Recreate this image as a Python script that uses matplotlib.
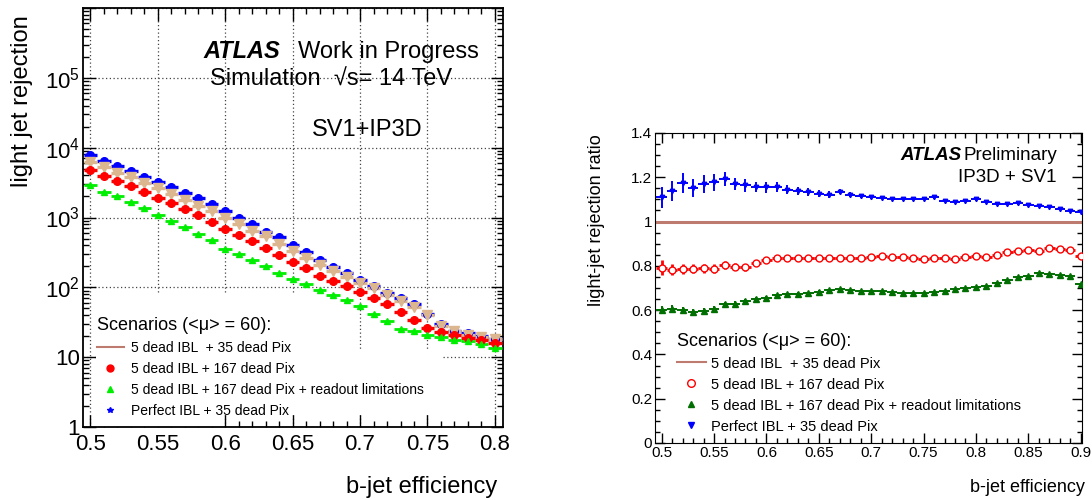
import math
import matplotlib
matplotlib.use('Agg')
import matplotlib.pyplot as plt
from matplotlib.lines import Line2D
from matplotlib.patches import Rectangle
from matplotlib.ticker import MultipleLocator, LogLocator, FuncFormatter, NullFormatter, FormatStrFormatter

plt.rcParams['font.family'] = ['Liberation Sans', 'DejaVu Sans']
plt.rcParams['mathtext.fontset'] = 'custom'
plt.rcParams['mathtext.rm'] = 'Liberation Sans'
plt.rcParams['mathtext.it'] = 'Liberation Sans:italic'

# left panel: light jet rejection vs b-jet efficiency
eff_left = [0.50, 0.51, 0.52, 0.53, 0.54, 0.55, 0.56, 0.57, 0.58, 0.59, 0.60,
            0.61, 0.62, 0.63, 0.64, 0.65, 0.66, 0.67, 0.68, 0.69, 0.70,
            0.71, 0.72, 0.73, 0.74, 0.75, 0.76, 0.77, 0.78, 0.79, 0.80]
rej_perfect = [7870, 6460, 5480, 4650, 3850, 3240, 2710, 2250, 1890, 1550, 1220,
               1000, 820, 630, 518, 400, 316, 249, 198, 158, 127,
               106, 84, 71, 58, 42, 30, 23.5, 21.9, 20.0, 18.5]
rej_35pix = [6310, 5240, 4400, 3770, 3090, 2620, 2150, 1790, 1480, 1220, 1000,
             800, 646, 536, 421, 334, 262, 211, 169, 141, 115,
             98, 77, 63, 52, 40, 28.3, 23.5, 21.1, 19.3, 18.5]
rej_167pix = [4800, 3980, 3380, 2830, 2300, 1930, 1600, 1315, 1070, 857, 689,
              565, 465, 365, 286, 230, 189, 147, 122, 106, 86,
              70, 58, 44, 34.5, 26.2, 22.9, 20.6, 19.1, 17.5, 16.0]
rej_readout = [2930, 2350, 2040, 1640, 1360, 1070, 895, 728, 585, 469, 356,
               299, 243, 200, 160, 133, 113, 92.7, 78.5, 65.2, 53.6,
               42.1, 32.7, 25.4, 23.5, 21.1, 19.5, 17.9, 16.9, 15.2, 13.6]

# right panel: ratio to "5 dead IBL + 35 dead Pix"
eff_right = [0.50, 0.51, 0.52, 0.53, 0.54, 0.55, 0.56, 0.57, 0.58, 0.59, 0.60,
             0.61, 0.62, 0.63, 0.64, 0.65, 0.66, 0.67, 0.68, 0.69, 0.70,
             0.71, 0.72, 0.73, 0.74, 0.75, 0.76, 0.77, 0.78, 0.79, 0.80,
             0.81, 0.82, 0.83, 0.84, 0.85, 0.86, 0.87, 0.88, 0.89, 0.90]
ratio_perfect = [1.110, 1.137, 1.174, 1.152, 1.169, 1.177, 1.193, 1.171, 1.164, 1.156, 1.155,
                 1.156, 1.144, 1.137, 1.134, 1.126, 1.122, 1.134, 1.122, 1.115, 1.112,
                 1.107, 1.104, 1.104, 1.103, 1.103, 1.110, 1.093, 1.090, 1.095, 1.100,
                 1.088, 1.081, 1.081, 1.082, 1.073, 1.071, 1.066, 1.055, 1.048, 1.041]
err_perfect = [0.048, 0.044, 0.044, 0.040, 0.040, 0.038, 0.033, 0.028, 0.030, 0.024, 0.025,
               0.022, 0.021, 0.018, 0.017, 0.015, 0.014, 0.011, 0.010, 0.009, 0.008,
               0.007, 0.007, 0.006, 0.006, 0.006, 0.006, 0.005, 0.005, 0.005, 0.005,
               0.005, 0.005, 0.005, 0.005, 0.004, 0.004, 0.004, 0.004, 0.004, 0.004]
ratio_167pix = [0.792, 0.782, 0.787, 0.787, 0.789, 0.787, 0.804, 0.797, 0.793, 0.815, 0.827,
                0.834, 0.837, 0.834, 0.834, 0.834, 0.834, 0.834, 0.834, 0.837, 0.841,
                0.846, 0.840, 0.840, 0.837, 0.831, 0.837, 0.834, 0.831, 0.840, 0.844,
                0.841, 0.851, 0.863, 0.866, 0.871, 0.866, 0.881, 0.878, 0.871, 0.844]
err_167pix = [0.034, 0.025, 0.022, 0.020, 0.020, 0.020, 0.018, 0.016, 0.015, 0.013, 0.012,
              0.011, 0.010, 0.009, 0.008, 0.008, 0.007, 0.007, 0.006, 0.006, 0.006,
              0.005, 0.005, 0.005, 0.005, 0.005, 0.005, 0.005, 0.005, 0.005, 0.005,
              0.005, 0.005, 0.005, 0.005, 0.005, 0.005, 0.005, 0.005, 0.005, 0.005]
ratio_readout = [0.600, 0.605, 0.600, 0.590, 0.597, 0.605, 0.627, 0.630, 0.642, 0.649, 0.656,
                 0.667, 0.671, 0.674, 0.678, 0.683, 0.689, 0.694, 0.689, 0.686, 0.686,
                 0.686, 0.682, 0.678, 0.676, 0.678, 0.682, 0.686, 0.694, 0.698, 0.704,
                 0.711, 0.723, 0.734, 0.748, 0.753, 0.767, 0.763, 0.760, 0.753, 0.716]
err_readout = [0.018, 0.016, 0.016, 0.015, 0.014, 0.013, 0.012, 0.011, 0.010, 0.009, 0.008,
               0.008, 0.007, 0.007, 0.006, 0.006, 0.005, 0.005, 0.005, 0.005, 0.005,
               0.004, 0.004, 0.004, 0.004, 0.004, 0.004, 0.004, 0.004, 0.004, 0.004,
               0.004, 0.004, 0.004, 0.004, 0.004, 0.004, 0.004, 0.004, 0.004, 0.004]
ratio_reference = 1.0

labels = ['5 dead IBL  + 35 dead Pix',
          '5 dead IBL + 167 dead Pix',
          '5 dead IBL + 167 dead Pix + readout limitations',
          'Perfect IBL + 35 dead Pix']
legend_title = 'Scenarios (<\u03bc> = 60):'

ref_color = '#bd7b70'
half_bin = 0.005

fig = plt.figure(figsize=(10.92, 5.0), dpi=100)

# ---------------- left panel ----------------
ax1 = fig.add_axes([0.0760, 0.146, 0.3846, 0.838])
ax1.set_yscale('log')
ax1.set_xlim(0.4945, 0.806)
ax1.set_ylim(1, 1e6)
ax1.grid(True, which='major', linestyle=(0, (1, 2)), color='#444444', linewidth=0.9)
ax1.set_axisbelow(True)

# white legend pads (ROOT boxes hide the grid underneath), given in axes fractions
for x0, y0, w, h in [(0.031, 0.0, 0.305, 0.320),
                     (0.305, 0.033, 0.276, 0.287),
                     (0.581, 0.033, 0.271, 0.148)]:
    ax1.add_patch(Rectangle((x0, y0), w, h, transform=ax1.transAxes,
                            facecolor='white', edgecolor='none', zorder=2.5))

ax1.errorbar(eff_left, rej_perfect, xerr=half_bin, fmt='o', color='#0000ff', ms=5.5,
             elinewidth=2.4, capsize=0, zorder=3)
ax1.errorbar(eff_left, rej_35pix, xerr=half_bin, fmt='v', color='#dcb68e', ms=6.5,
             elinewidth=2.4, capsize=0, zorder=3)
ax1.errorbar(eff_left, rej_167pix, xerr=half_bin, fmt='o', color='#ff0000', ms=5.5,
             elinewidth=2.4, capsize=0, zorder=3)
ax1.errorbar(eff_left, rej_readout, xerr=half_bin, fmt='^', color='#00ee00', ms=5,
             elinewidth=2.0, capsize=0, zorder=3)

ax1.xaxis.set_major_locator(MultipleLocator(0.05))
ax1.xaxis.set_minor_locator(MultipleLocator(0.01))
ax1.xaxis.set_major_formatter(FormatStrFormatter('%g'))
ax1.yaxis.set_major_locator(LogLocator(base=10, numticks=10))
ax1.yaxis.set_minor_locator(LogLocator(base=10, subs=range(2, 10), numticks=20))
ax1.yaxis.set_minor_formatter(NullFormatter())


def pow_label(v, pos):
    n = round(math.log10(v))
    if n == 0:
        return '1'
    if n == 1:
        return '10'
    if n > 5:
        return ''
    return r'$10^{%d}$' % n


ax1.yaxis.set_major_formatter(FuncFormatter(pow_label))
ax1.tick_params(which='both', direction='in', top=True, right=True)
ax1.tick_params(which='major', length=9, width=1.0)
ax1.tick_params(which='minor', length=4.5, width=1.0)
ax1.tick_params(axis='x', labelsize=16, pad=5)
ax1.tick_params(axis='y', labelsize=16, pad=2)
for s in ax1.spines.values():
    s.set_linewidth(1.3)

ax1.text(-0.145, 0.778, 'light jet rejection', transform=ax1.transAxes, rotation=90,
         ha='center', va='center', fontsize=17)
ax1.text(0.986, -0.143, 'b-jet efficiency', transform=ax1.transAxes,
         ha='right', va='center', fontsize=17)
ax1.text(0.286, 0.895, 'ATLAS', transform=ax1.transAxes, fontsize=17,
         fontweight='bold', fontstyle='italic', va='center')
ax1.text(0.512, 0.895, 'Work in Progress', transform=ax1.transAxes, fontsize=17, va='center')
ax1.text(0.302, 0.828, 'Simulation  \u221as= 14 TeV', transform=ax1.transAxes,
         fontsize=17, va='center')
ax1.text(0.545, 0.709, 'SV1+IP3D', transform=ax1.transAxes, fontsize=17, va='center')

handles_left = [
    Line2D([], [], color=ref_color, lw=1.5),
    Line2D([], [], ls='none', marker='o', color='#ff0000', ms=5),
    Line2D([], [], ls='none', marker='^', color='#00ee00', ms=4),
    Line2D([], [], ls='none', marker='*', color='#0000ff', ms=4),
]
ax1.legend(handles_left, labels, title=legend_title, loc='upper left',
           bbox_to_anchor=(0.019, 0.275), borderaxespad=0, fontsize=10,
           title_fontsize=13, alignment='left', handlelength=2.0,
           handletextpad=0.45, labelspacing=0.5, frameon=False, borderpad=0.4)

# ---------------- right panel ----------------
ax2 = fig.add_axes([0.5998, 0.114, 0.3910, 0.620])
ax2.set_xlim(0.4936, 0.9012)
ax2.set_ylim(0, 1.4)

ax2.axhline(ratio_reference, color=ref_color, lw=2.2, zorder=2)
ax2.errorbar(eff_right, ratio_perfect, xerr=half_bin, yerr=err_perfect, fmt='v',
             color='#0000ff', ms=3.2, elinewidth=1.4, capsize=0, zorder=3)
ax2.errorbar(eff_right, ratio_167pix, xerr=half_bin, yerr=err_167pix, fmt='o',
             color='#ff0000', mfc='white', ms=5, mew=1.0, elinewidth=2.0, capsize=0, zorder=3)
ax2.errorbar(eff_right, ratio_readout, xerr=half_bin, yerr=err_readout, fmt='^',
             color='#006e00', ms=3.8, elinewidth=1.4, capsize=0, zorder=3)

ax2.xaxis.set_major_locator(MultipleLocator(0.05))
ax2.xaxis.set_minor_locator(MultipleLocator(0.01))
ax2.xaxis.set_major_formatter(FormatStrFormatter('%g'))
ax2.yaxis.set_major_locator(MultipleLocator(0.2))
ax2.yaxis.set_minor_locator(MultipleLocator(0.05))
ax2.yaxis.set_major_formatter(FormatStrFormatter('%g'))
ax2.tick_params(which='both', direction='in', top=True, right=True)
ax2.tick_params(which='major', length=7, width=1.0)
ax2.tick_params(which='minor', length=3.5, width=1.0)
ax2.tick_params(axis='both', labelsize=11, pad=2)

ax2.text(-0.136, 0.719, 'light-jet rejection ratio', transform=ax2.transAxes, rotation=90,
         ha='center', va='center', fontsize=13)
ax2.text(1.007, -0.142, 'b-jet efficiency', transform=ax2.transAxes,
         ha='right', va='center', fontsize=13)
ax2.text(0.574, 0.929, 'ATLAS', transform=ax2.transAxes, fontsize=13.5,
         fontweight='bold', fontstyle='italic', va='center')
ax2.text(0.941, 0.929, 'Preliminary', transform=ax2.transAxes, fontsize=13.5,
         ha='right', va='center')
ax2.text(0.941, 0.858, 'IP3D + SV1', transform=ax2.transAxes, fontsize=13.5,
         ha='right', va='center')

handles_right = [
    Line2D([], [], color=ref_color, lw=1.5),
    Line2D([], [], ls='none', marker='o', color='#ff0000', mfc='white', ms=5.5, mew=1.0),
    Line2D([], [], ls='none', marker='^', color='#006e00', ms=4),
    Line2D([], [], ls='none', marker='v', color='#0000ff', ms=4),
]
ax2.legend(handles_right, labels, title=legend_title, loc='upper left',
           bbox_to_anchor=(0.037, 0.375), borderaxespad=0, fontsize=10.5,
           title_fontsize=13, alignment='left', handlelength=2.0,
           handletextpad=0.35, labelspacing=0.48, frameon=False, borderpad=0.4)

fig.savefig('out.png', dpi=100)
